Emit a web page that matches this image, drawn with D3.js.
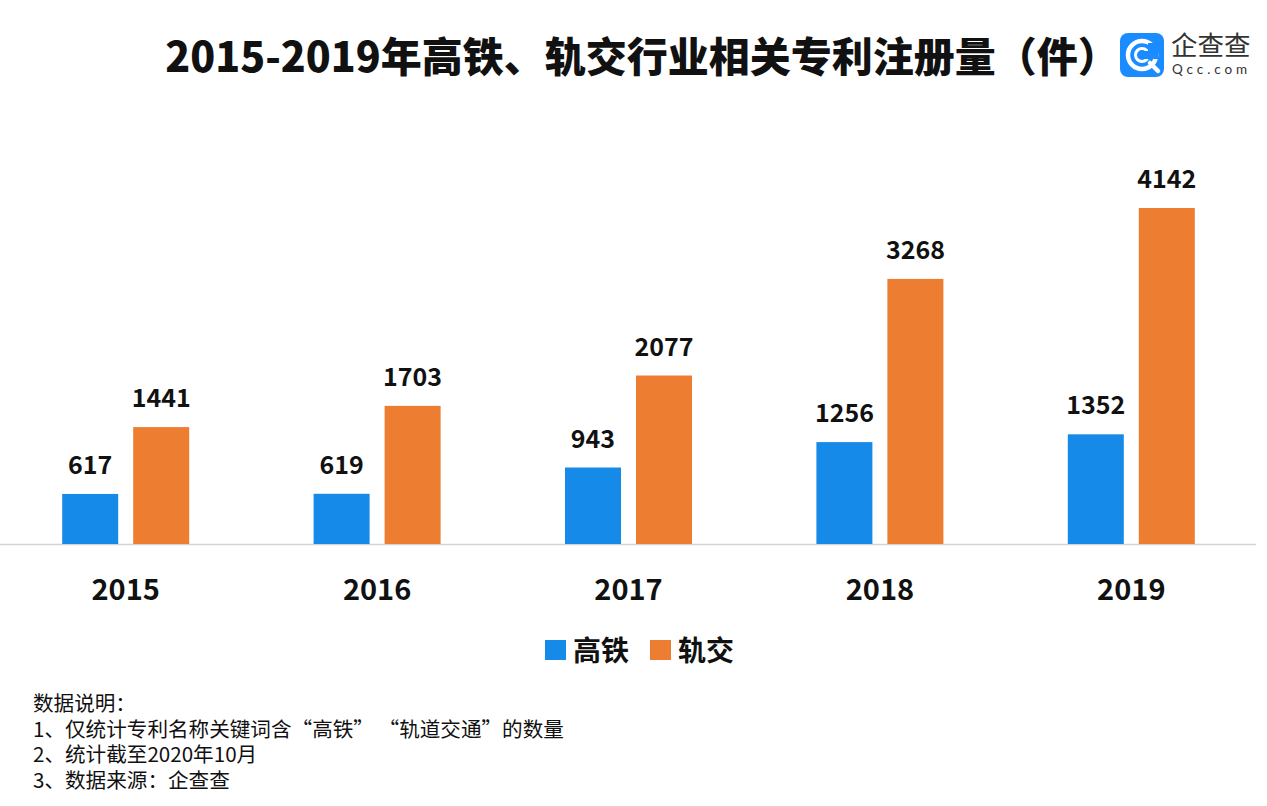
<!DOCTYPE html>
<html><head><meta charset="utf-8">
<script src="https://cdn.jsdelivr.net/npm/d3@7"></script>
<style>html,body{margin:0;padding:0;background:#fff;}svg{display:block;font-family:"Noto Sans CJK SC","Noto Sans",sans-serif;}</style>
</head><body>
<svg id="c" width="1267" height="806"></svg>
<script>
const years = ["2015","2016","2017","2018","2019"];
const seriesNames = ["高铁","轨交"];
const gaotie = [617, 619, 943, 1256, 1352];
const guijiao = [1441, 1703, 2077, 3268, 4142];
const colors = ["#168ae8", "#ed7d31"];
const title = "2015-2019年高铁、轨交行业相关专利注册量（件）";
const notes = ["数据说明：", "1、仅统计专利名称关键词含“高铁”  “轨道交通”的数量", "2、统计截至2020年10月", "3、数据来源：企查查"];

const svg = d3.select("#c");
const baseY = 544;
const x = d3.scaleBand().domain(years).range([0, 1257]).padding(0);
const y = d3.scaleLinear().domain([0, 4142]).range([baseY, 208]);
const barW = 56, gap = 15;
const data = [gaotie, guijiao];

// axis
svg.append("line").attr("x1", 0).attr("x2", 1256).attr("y1", baseY + 0.5).attr("y2", baseY + 0.5)
  .attr("stroke", "#d4d4d4").attr("stroke-width", 1.5);

data.forEach((vals, si) => {
  const g = svg.append("g");
  const off = si === 0 ? -(gap / 2 + barW) : gap / 2;
  g.selectAll("rect").data(vals).join("rect")
    .attr("x", (d, i) => x(years[i]) + x.bandwidth() / 2 + off)
    .attr("y", d => y(d))
    .attr("width", barW)
    .attr("height", d => baseY - y(d))
    .attr("fill", colors[si]);
  g.selectAll("text").data(vals).join("text")
    .attr("x", (d, i) => x(years[i]) + x.bandwidth() / 2 + off + barW / 2)
    .attr("y", d => y(d) - 20)
    .attr("text-anchor", "middle")
    .attr("font-size", 25).attr("font-weight", 700).attr("fill", "#111")
    .text(d => d);
});

// x labels
const xAxis = d3.axisBottom(x).tickSize(0).tickPadding(0);
const xg = svg.append("g").attr("transform", `translate(0, ${baseY})`).call(xAxis);
xg.select(".domain").remove();
xg.selectAll("text").attr("dy", 0).attr("y", 56).attr("font-size", 29).attr("font-weight", 700)
  .attr("fill", "#111").attr("font-family", '"Noto Sans CJK SC","Noto Sans",sans-serif');

// title
svg.append("text").attr("x", 642).attr("y", 72).attr("text-anchor", "middle")
  .attr("font-size", 41).attr("font-weight", 900).attr("fill", "#111").text(title);

// legend
const leg = [{x: 545, t: seriesNames[0], c: colors[0]}, {x: 650, t: seriesNames[1], c: colors[1]}];
leg.forEach(l => {
  svg.append("rect").attr("x", l.x).attr("y", 640).attr("width", 21).attr("height", 20).attr("fill", l.c);
  svg.append("text").attr("x", l.x + 28).attr("y", 661).attr("font-size", 28).attr("font-weight", 700)
    .attr("fill", "#111").text(l.t);
});

// notes
notes.forEach((n, i) => {
  svg.append("text").attr("x", 33).attr("y", 711 + i * 25.5).attr("font-size", 20.6).attr("fill", "#111").text(n);
});

// logo
const lg = svg.append("g").attr("transform", "translate(1120,33)");
lg.append("rect").attr("width", 44).attr("height", 44).attr("rx", 8).attr("fill", "#1a8cff");
lg.append("circle").attr("cx", 22).attr("cy", 22).attr("r", 14).attr("fill", "none").attr("stroke", "#fff").attr("stroke-width", 4.5);
lg.append("circle").attr("cx", 22).attr("cy", 22).attr("r", 6.5).attr("fill", "none").attr("stroke", "#fff").attr("stroke-width", 3);
lg.append("rect").attr("x", 24).attr("y", 18).attr("width", 14).attr("height", 8).attr("fill", "#1a8cff");
lg.append("rect").attr("x", 28).attr("y", 10).attr("width", 14).attr("height", 8).attr("fill", "#1a8cff");
lg.append("line").attr("x1", 30).attr("y1", 30).attr("x2", 38).attr("y2", 38).attr("stroke", "#fff").attr("stroke-width", 4.5).attr("stroke-linecap", "round");
svg.append("text").attr("x", 1171).attr("y", 55).attr("font-size", 26.5).attr("fill", "#333").text("企查查");
svg.append("text").attr("x", 1172).attr("y", 74).attr("font-size", 13.5).attr("fill", "#333").attr("letter-spacing", 3.9).attr("font-family", "Lato, 'Open Sans', sans-serif").text("Qcc.com");
</script>
</body></html>
